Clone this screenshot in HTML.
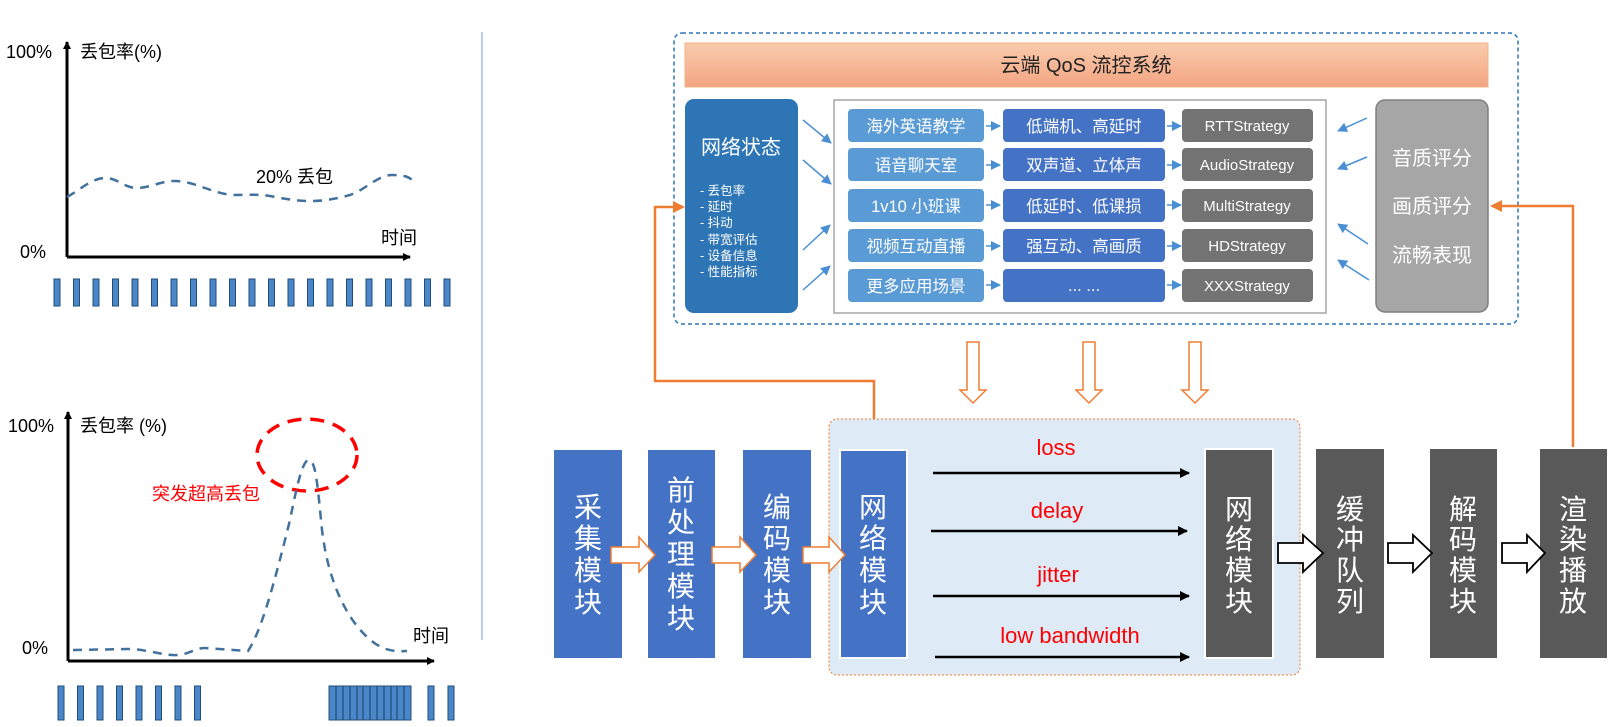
<!DOCTYPE html>
<html><head><meta charset="utf-8"><style>
html,body{margin:0;padding:0;background:#fff;}
svg{display:block;}
text{font-family:"Liberation Sans","Noto Sans CJK SC",sans-serif;}
</style></head><body>
<svg width="1616" height="727" viewBox="0 0 1616 727" xmlns="http://www.w3.org/2000/svg">
<defs>
<marker id="ab" markerWidth="8" markerHeight="8" refX="7" refY="4" orient="auto" markerUnits="userSpaceOnUse"><path d="M0,0 L8,4 L0,8 z" fill="#000"/></marker>
<marker id="ab2" markerWidth="10" markerHeight="10" refX="9" refY="5" orient="auto" markerUnits="userSpaceOnUse"><path d="M0,0 L10,5 L0,10 z" fill="#000"/></marker>
<marker id="abl" markerWidth="10" markerHeight="10" refX="9" refY="5" orient="auto" markerUnits="userSpaceOnUse"><path d="M0,0 L10,5 L0,10 z" fill="#4a8fd4"/></marker>
<marker id="aor" markerWidth="12" markerHeight="12" refX="10" refY="6" orient="auto" markerUnits="userSpaceOnUse"><path d="M0,0 L12,6 L0,12 z" fill="#ed7d31"/></marker>
</defs>

<!-- ===== top-left chart ===== -->
<line x1="67" y1="257" x2="67" y2="42" stroke="#000" stroke-width="3" marker-end="url(#ab)"/>
<line x1="67" y1="257" x2="410" y2="257" stroke="#000" stroke-width="3" marker-end="url(#ab)"/>
<text x="6" y="58" font-size="18">100%</text>
<text x="80" y="58" font-size="18">丢包率(%)</text>
<text x="20" y="258" font-size="18">0%</text>
<text x="381" y="244" font-size="18">时间</text>
<text x="256" y="183" font-size="18">20% 丢包</text>
<path d="M67,197 C80,190 92,178 105,178 C118,178 124,188 137,188 C150,188 160,181 175,181 C195,181 215,195 235,195 C250,195 258,194 270,196 C290,200 300,201 310,201 C325,201 335,199 350,195 C365,190 378,175 392,175 C402,175 408,176 412,180" fill="none" stroke="#41719c" stroke-width="2.5" stroke-dasharray="9,7"/>
<g fill="#4a86c8" stroke="#1f4e79" stroke-width="1">
<rect x="54" y="279" width="6" height="27"/><rect x="73.5" y="279" width="6" height="27"/><rect x="93" y="279" width="6" height="27"/><rect x="112.5" y="279" width="6" height="27"/><rect x="132" y="279" width="6" height="27"/><rect x="151.5" y="279" width="6" height="27"/><rect x="171" y="279" width="6" height="27"/><rect x="190.5" y="279" width="6" height="27"/><rect x="210" y="279" width="6" height="27"/><rect x="229.5" y="279" width="6" height="27"/><rect x="249" y="279" width="6" height="27"/><rect x="268.5" y="279" width="6" height="27"/><rect x="288" y="279" width="6" height="27"/><rect x="307.5" y="279" width="6" height="27"/><rect x="327" y="279" width="6" height="27"/><rect x="346.5" y="279" width="6" height="27"/><rect x="366" y="279" width="6" height="27"/><rect x="385.5" y="279" width="6" height="27"/><rect x="405" y="279" width="6" height="27"/><rect x="424.5" y="279" width="6" height="27"/><rect x="444" y="279" width="6" height="27"/>
</g>

<!-- ===== bottom-left chart ===== -->
<line x1="68" y1="661" x2="68" y2="412" stroke="#000" stroke-width="3" marker-end="url(#ab)"/>
<line x1="68" y1="661" x2="434" y2="661" stroke="#000" stroke-width="3" marker-end="url(#ab)"/>
<text x="8" y="432" font-size="18">100%</text>
<text x="80" y="432" font-size="18">丢包率 (%)</text>
<text x="22" y="654" font-size="18">0%</text>
<text x="413" y="642" font-size="18">时间</text>
<text x="152" y="500" font-size="18" fill="#ff0000">突发超高丢包</text>
<ellipse cx="307" cy="455" rx="50" ry="36" fill="none" stroke="#ff0000" stroke-width="3.5" stroke-dasharray="14,9"/>
<path d="M73,650 L130,649 C150,650 165,656 178,655 C190,654 195,648 205,648 L248,651 C262,630 275,580 290,520 C298,480 303,460 309,460 C316,460 318,490 322,530 C328,580 345,615 365,635 C380,650 392,652 407,651" fill="none" stroke="#41719c" stroke-width="2.5" stroke-dasharray="9,7"/>
<g fill="#4a86c8" stroke="#1f4e79" stroke-width="1">
<rect x="58" y="686" width="6" height="34"/><rect x="77.5" y="686" width="6" height="34"/><rect x="97" y="686" width="6" height="34"/><rect x="116.5" y="686" width="6" height="34"/><rect x="136" y="686" width="6" height="34"/><rect x="155.5" y="686" width="6" height="34"/><rect x="175" y="686" width="6" height="34"/><rect x="194.5" y="686" width="6" height="34"/>
<rect x="329" y="686" width="82" height="34"/>
<rect x="428" y="686" width="6" height="34"/><rect x="448" y="686" width="6" height="34"/>
</g>
<g stroke="#1f4e79" stroke-width="1.2">
<line x1="336" y1="686" x2="336" y2="720"/><line x1="343" y1="686" x2="343" y2="720"/><line x1="350" y1="686" x2="350" y2="720"/><line x1="357" y1="686" x2="357" y2="720"/><line x1="363" y1="686" x2="363" y2="720"/><line x1="370" y1="686" x2="370" y2="720"/><line x1="377" y1="686" x2="377" y2="720"/><line x1="384" y1="686" x2="384" y2="720"/><line x1="391" y1="686" x2="391" y2="720"/><line x1="397" y1="686" x2="397" y2="720"/><line x1="404" y1="686" x2="404" y2="720"/>
</g>

<!-- divider -->
<line x1="482" y1="32" x2="482" y2="640" stroke="#9dc3e6" stroke-width="1.5"/>

<!-- ===== cloud QoS system ===== -->
<rect x="674" y="33" width="844" height="291" rx="8" fill="none" stroke="#2e75b6" stroke-width="1.5" stroke-dasharray="4,3"/>
<defs><linearGradient id="og" x1="0" y1="0" x2="0" y2="1"><stop offset="0" stop-color="#f8cbad"/><stop offset="1" stop-color="#f4a582"/></linearGradient></defs>
<rect x="685" y="43" width="803" height="44" fill="url(#og)" stroke="#f4b183" stroke-width="1"/>
<text x="1086" y="72" font-size="20" text-anchor="middle" fill="#222">云端 QoS 流控系统</text>

<rect x="685" y="99" width="113" height="214" rx="9" fill="#2e75b6"/>
<text x="741" y="154" font-size="20" text-anchor="middle" fill="#fff">网络状态</text>
<g font-size="12.5" fill="#fff">
<text x="700" y="195">- 丢包率</text><text x="700" y="211">- 延时</text><text x="700" y="227">- 抖动</text><text x="700" y="244">- 带宽评估</text><text x="700" y="260">- 设备信息</text><text x="700" y="276">- 性能指标</text>
</g>

<rect x="834" y="100" width="492" height="213" fill="#fff" stroke="#a6a6a6" stroke-width="1.5"/>
<g fill="#5b9bd5">
<rect x="848" y="109" width="136" height="33" rx="4"/><rect x="848" y="148" width="136" height="33" rx="4"/><rect x="848" y="189" width="136" height="33" rx="4"/><rect x="848" y="229" width="136" height="33" rx="4"/><rect x="848" y="269" width="136" height="33" rx="4"/>
</g>
<g fill="#4472c4">
<rect x="1003" y="109" width="162" height="33" rx="4"/><rect x="1003" y="148" width="162" height="33" rx="4"/><rect x="1003" y="189" width="162" height="33" rx="4"/><rect x="1003" y="229" width="162" height="33" rx="4"/><rect x="1003" y="269" width="162" height="33" rx="4"/>
</g>
<g fill="#737373">
<rect x="1182" y="109" width="131" height="33" rx="4"/><rect x="1182" y="148" width="131" height="33" rx="4"/><rect x="1182" y="189" width="131" height="33" rx="4"/><rect x="1182" y="229" width="131" height="33" rx="4"/><rect x="1182" y="269" width="131" height="33" rx="4"/>
</g>
<g font-size="16.5" fill="#fff" text-anchor="middle">
<text x="916" y="132">海外英语教学</text><text x="916" y="171">语音聊天室</text><text x="916" y="212">1v10 小班课</text><text x="916" y="252">视频互动直播</text><text x="916" y="292">更多应用场景</text>
<text x="1084" y="132">低端机、高延时</text><text x="1084" y="171">双声道、立体声</text><text x="1084" y="212">低延时、低课损</text><text x="1084" y="252">强互动、高画质</text><text x="1084" y="291">... ...</text>
</g>
<g font-size="15" fill="#fff" text-anchor="middle">
<text x="1247" y="131">RTTStrategy</text><text x="1247" y="170">AudioStrategy</text><text x="1247" y="211">MultiStrategy</text><text x="1247" y="251">HDStrategy</text><text x="1247" y="291">XXXStrategy</text>
</g>
<g stroke="#4a8fd4" stroke-width="1.5" marker-end="url(#abl)">
<line x1="986" y1="126" x2="1000" y2="126"/><line x1="986" y1="165" x2="1000" y2="165"/><line x1="986" y1="205" x2="1000" y2="205"/><line x1="986" y1="246" x2="1000" y2="246"/><line x1="986" y1="285" x2="1000" y2="285"/>
<line x1="1167" y1="126" x2="1181" y2="126"/><line x1="1167" y1="165" x2="1181" y2="165"/><line x1="1167" y1="205" x2="1181" y2="205"/><line x1="1167" y1="246" x2="1181" y2="246"/><line x1="1167" y1="285" x2="1181" y2="285"/>
<line x1="803" y1="120" x2="831" y2="143"/><line x1="803" y1="160" x2="831" y2="184"/><line x1="803" y1="250" x2="830" y2="225"/><line x1="803" y1="290" x2="830" y2="266"/>
<line x1="1367" y1="118" x2="1338" y2="131"/><line x1="1367" y1="157" x2="1338" y2="169"/><line x1="1368" y1="244" x2="1338" y2="224"/><line x1="1369" y1="280" x2="1338" y2="260"/>
</g>

<rect x="1376" y="100" width="112" height="212" rx="9" fill="#a6a6a6" stroke="#7f7f7f" stroke-width="1.5"/>
<g font-size="20" fill="#fff" text-anchor="middle">
<text x="1432" y="165">音质评分</text><text x="1432" y="213">画质评分</text><text x="1432" y="262">流畅表现</text>
</g>

<!-- orange feedback lines -->
<polyline points="874,448 874,381 655,381 655,207 683,207" fill="none" stroke="#ed7d31" stroke-width="2.5" marker-end="url(#aor)"/>
<polyline points="1573,447 1573,206 1492,206" fill="none" stroke="#ed7d31" stroke-width="2.5" marker-end="url(#aor)"/>

<!-- hollow down arrows -->
<g fill="#fff" stroke="#ed7d31" stroke-width="1.5">
<path d="M967,342 H979 V390 H986 L973,403 L960,390 H967 Z"/>
<path d="M1083,342 H1095 V390 H1102 L1089,403 L1076,390 H1083 Z"/>
<path d="M1189,342 H1201 V390 H1208 L1195,403 L1182,390 H1189 Z"/>
</g>

<!-- light blue network region -->
<rect x="829" y="419" width="471" height="256" rx="8" fill="#deebf7" stroke="#ed7d31" stroke-width="1" stroke-dasharray="2,2"/>

<!-- pipeline boxes -->
<g fill="#4472c4">
<rect x="554" y="450" width="68" height="208"/><rect x="648" y="450" width="67" height="208"/><rect x="743" y="450" width="68" height="208"/>
<rect x="840" y="450" width="67" height="208" stroke="#fff" stroke-width="2"/>
</g>
<g fill="#595959">
<rect x="1205" y="449" width="68" height="209" stroke="#fff" stroke-width="2"/>
<rect x="1316" y="449" width="68" height="209"/><rect x="1430" y="449" width="67" height="209"/><rect x="1540" y="449" width="67" height="209"/>
</g>
<g font-size="28" fill="#fff" text-anchor="middle">
<text x="588" y="517">采</text><text x="588" y="548">集</text><text x="588" y="580">模</text><text x="588" y="612">块</text>
<text x="681" y="500">前</text><text x="681" y="532">处</text><text x="681" y="564">理</text><text x="681" y="596">模</text><text x="681" y="628">块</text>
<text x="777" y="517">编</text><text x="777" y="548">码</text><text x="777" y="580">模</text><text x="777" y="612">块</text>
<text x="873" y="517">网</text><text x="873" y="548">络</text><text x="873" y="580">模</text><text x="873" y="612">块</text>
<text x="1239" y="519">网</text><text x="1239" y="549">络</text><text x="1239" y="580">模</text><text x="1239" y="611">块</text>
<text x="1350" y="519">缓</text><text x="1350" y="549">冲</text><text x="1350" y="580">队</text><text x="1350" y="611">列</text>
<text x="1463" y="519">解</text><text x="1463" y="549">码</text><text x="1463" y="580">模</text><text x="1463" y="611">块</text>
<text x="1573" y="519">渲</text><text x="1573" y="549">染</text><text x="1573" y="580">播</text><text x="1573" y="611">放</text>
</g>

<!-- orange hollow right arrows -->
<g fill="#fff" stroke="#ed7d31" stroke-width="1.5">
<path d="M611,547 H639 V537 L655,555 L639,572 V563 H611 Z"/>
<path d="M712,547 H740 V537 L756,555 L740,572 V563 H712 Z"/>
<path d="M803,547 H829 V537 L845,555 L829,572 V563 H803 Z"/>
</g>
<!-- black hollow right arrows -->
<g fill="#fff" stroke="#000" stroke-width="1.8">
<path d="M1278,543 H1303 V535 L1323,553 L1303,572 V563 H1278 Z"/>
<path d="M1388,543 H1413 V535 L1432,553 L1413,572 V563 H1388 Z"/>
<path d="M1502,543 H1527 V535 L1545,553 L1527,572 V563 H1502 Z"/>
</g>

<!-- signal arrows -->
<g stroke="#000" stroke-width="2.5" marker-end="url(#ab2)">
<line x1="933" y1="473" x2="1189" y2="473"/><line x1="931" y1="531" x2="1187" y2="531"/><line x1="933" y1="596" x2="1189" y2="596"/><line x1="935" y1="657" x2="1189" y2="657"/>
</g>
<g font-size="22" fill="#ff0000" text-anchor="middle">
<text x="1056" y="455">loss</text><text x="1057" y="518">delay</text><text x="1058" y="582">jitter</text><text x="1070" y="643">low bandwidth</text>
</g>
</svg>
</body></html>
